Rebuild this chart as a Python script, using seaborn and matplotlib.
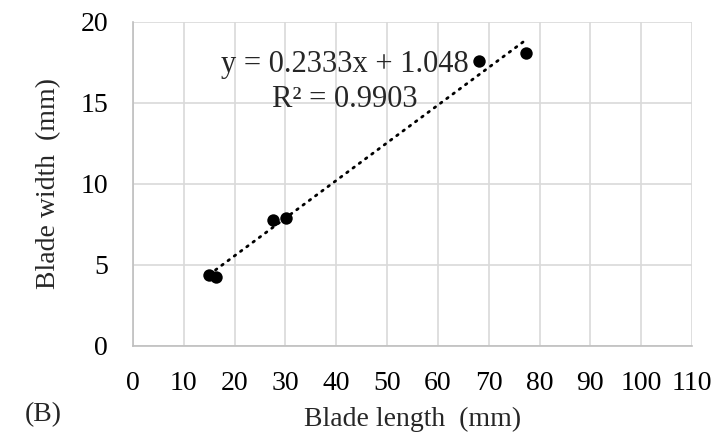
import numpy as np
import pandas as pd
import matplotlib
matplotlib.use("Agg")
import matplotlib.pyplot as plt
import seaborn as sns

blade_length = [15.0, 16.3, 27.6, 30.2, 68.0, 77.4]
blade_width = [4.38, 4.26, 7.78, 7.92, 17.6, 18.1]
x_ticks = [0, 10, 20, 30, 40, 50, 60, 70, 80, 90, 100, 110]
y_ticks = [0, 5, 10, 15, 20]
equation_text = "y = 0.2333x + 1.048"
r2_text = "R² = 0.9903"

df = pd.DataFrame({"length": blade_length, "width": blade_width})

sns.set_style("white")
plt.rcParams["font.family"] = ["Liberation Serif", "DejaVu Serif"]

fig = plt.figure(figsize=(7.21, 4.47), dpi=100)
ax = fig.add_axes([0.1845, 0.226, 0.7753, 0.7248])

sns.regplot(data=df, x="length", y="width", ax=ax, ci=None, truncate=True,
            scatter_kws={"s": 80, "color": "black", "alpha": 1, "linewidths": 0, "zorder": 3},
            line_kws={"color": "black", "lw": 2.0, "linestyle": (0, (0.6, 2.2)),
                      "dash_capstyle": "round", "zorder": 2})

ax.set_xlim(0, 110)
ax.set_ylim(0, 20)
ax.set_xticks(x_ticks)
ax.set_yticks(y_ticks)
ax.grid(True, color="#d9d9d9", lw=1.2)
ax.set_axisbelow(True)
for s in ["top", "right"]:
    ax.spines[s].set_visible(False)
for s in ["left", "bottom"]:
    ax.spines[s].set_color("#bfbfbf")
    ax.spines[s].set_linewidth(1.2)
ax.tick_params(axis="both", length=0, labelsize=20, colors="black")
ax.tick_params(axis="x", pad=18)
ax.tick_params(axis="y", pad=18)
ax.set_xlabel("Blade length  (mm)", fontsize=20, labelpad=8)
ax.set_ylabel("Blade width  (mm)", fontsize=20, labelpad=14)

ax.text(41.7, 17.35, equation_text, fontsize=22, ha="center", va="center")
ax.text(41.7, 15.2, r2_text, fontsize=22, ha="center", va="center")

fig.text(43 / 721, 1 - 415 / 447, "(B)", fontsize=20, ha="center", va="center")

fig.savefig("out.png", dpi=100)
